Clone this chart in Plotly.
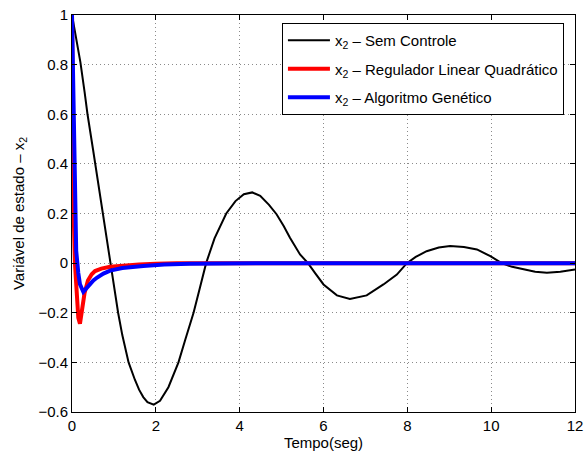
import plotly.graph_objects as go

# Sem Controle (black)
t_sem = [0, 0.1, 0.2, 0.3, 0.37, 0.5, 0.6, 0.7, 0.8, 0.91, 1.0, 1.1, 1.2, 1.35, 1.5, 1.6, 1.7, 1.8, 1.95,
         2.1, 2.3, 2.54, 2.7, 2.9, 3.05, 3.2, 3.4, 3.68, 3.9, 4.1, 4.3, 4.49, 4.7, 4.88, 5.05, 5.2, 5.44,
         5.63, 5.8, 6.0, 6.32, 6.63, 7.03, 7.43, 7.75, 7.99, 8.2, 8.46, 8.75, 9.02, 9.35, 9.66, 9.98,
         10.25, 10.5, 10.77, 11.05, 11.33, 11.65, 12.0]
y_sem = [1.0, 0.91, 0.81, 0.69, 0.6, 0.46, 0.35, 0.23, 0.12, 0.0, -0.1, -0.2, -0.29, -0.4, -0.47, -0.51,
         -0.54, -0.56, -0.57, -0.555, -0.5, -0.4, -0.31, -0.2, -0.1, 0.0, 0.1, 0.2, 0.25, 0.278, 0.285,
         0.271, 0.235, 0.197, 0.15, 0.102, 0.035, 0.0, -0.04, -0.086, -0.13, -0.144, -0.13, -0.086,
         -0.046, 0.0, 0.025, 0.048, 0.063, 0.069, 0.065, 0.055, 0.028, 0.0, -0.015, -0.026, -0.035,
         -0.039, -0.035, -0.026]

# Regulador Linear Quadrático (red)
t_lqr = [0, 0.02, 0.04, 0.07, 0.11, 0.15, 0.19, 0.23, 0.3, 0.38, 0.47, 0.55, 0.7, 0.91, 1.2, 1.6, 2.0, 2.5, 3.5, 12.0]
y_lqr = [1.0, 0.5, 0.2, 0.0, -0.15, -0.22, -0.244, -0.2, -0.12, -0.07, -0.045, -0.032, -0.022, -0.015,
         -0.01, -0.006, -0.003, 0.0, 0.0, 0.0]

# Algoritmo Genético (blue)
t_ag = [0, 0.04, 0.07, 0.1, 0.15, 0.19, 0.27, 0.35, 0.43, 0.51, 0.6, 0.75, 0.91, 1.2, 1.7, 2.2, 2.8, 3.5, 4.5, 12.0]
y_ag = [1.0, 0.6, 0.2, 0.05, -0.04, -0.085, -0.116, -0.1, -0.083, -0.07, -0.058, -0.042, -0.03, -0.02,
        -0.012, -0.006, -0.003, -0.001, 0.0, 0.0]

names = ["x<sub>2</sub> – Sem Controle",
         "x<sub>2</sub> – Regulador Linear Quadrático",
         "x<sub>2</sub> – Algoritmo Genético"]

x_ticks = [0, 2, 4, 6, 8, 10, 12]
y_ticks = [-0.6, -0.4, -0.2, 0, 0.2, 0.4, 0.6, 0.8, 1]

FONT = "Liberation Sans, Arial, sans-serif"
FS = 15

fig = go.Figure()
fig.add_trace(go.Scatter(x=t_sem, y=y_sem, mode="lines", name=names[0], legendgroup="a",
                         line=dict(color="black", width=2)))
fig.add_trace(go.Scatter(x=t_lqr, y=y_lqr, mode="lines", name=names[1], legendgroup="b",
                         line=dict(color="#ff0000", width=4)))
fig.add_trace(go.Scatter(x=t_ag, y=y_ag, mode="lines", name=names[2], legendgroup="c",
                         line=dict(color="#0000ff", width=4)))

axis_common = dict(
    showline=True, linecolor="black", linewidth=1, mirror="ticks",
    ticks="inside", ticklen=5, tickcolor="black", automargin=False,
    showgrid=True, gridcolor="#8a8a8a", griddash="1px,3px", gridwidth=1,
    zeroline=False, tickfont=dict(family=FONT, size=FS, color="black"),
)

fig.update_layout(
    width=584, height=457,
    margin=dict(l=72, r=9, t=15, b=45),
    paper_bgcolor="white", plot_bgcolor="white",
    font=dict(family=FONT, size=FS, color="black"),
    xaxis=dict(range=[0, 12], tickvals=x_ticks, title=dict(text="Tempo(seg)", standoff=2,
               font=dict(family=FONT, size=FS)), **axis_common),
    yaxis=dict(range=[-0.6, 1], tickvals=y_ticks, title=dict(text="Variável de estado – x<sub>2</sub>",
               standoff=10, font=dict(family=FONT, size=FS)), **axis_common),
    legend=dict(x=0.978, y=0.98, xanchor="right", yanchor="top",
                bgcolor="white", bordercolor="black", borderwidth=1,
                font=dict(family=FONT, size=FS, color="black"),
                itemwidth=42,
                traceorder="grouped", tracegroupgap=6),
    showlegend=True,
)

post = ("document.documentElement.style.margin='0';document.documentElement.style.overflow='hidden';"
        "document.body.style.margin='0';document.body.style.padding='0';document.body.style.overflow='hidden';")
fig.write_html("out.html", post_script=post, config={"displayModeBar": False})
